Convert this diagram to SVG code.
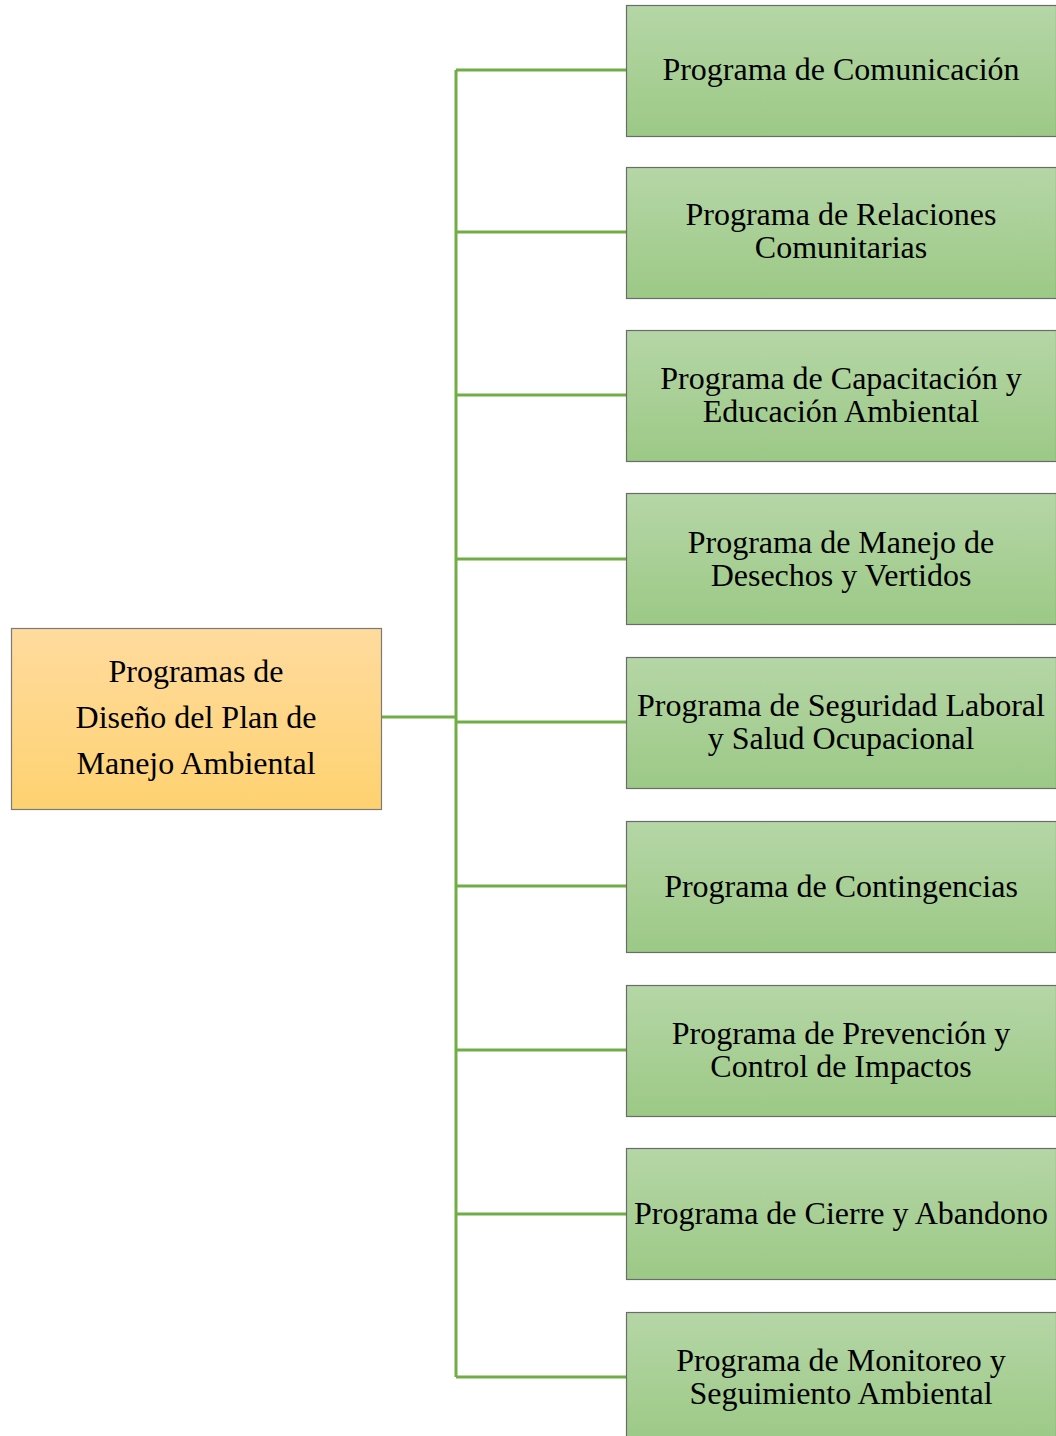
<svg xmlns="http://www.w3.org/2000/svg" width="1056" height="1436" viewBox="0 0 1056 1436">
<defs>
<linearGradient id="gg" x1="0" y1="0" x2="0" y2="1"><stop offset="0" stop-color="#b5d6a6"/><stop offset="1" stop-color="#9cc986"/></linearGradient>
<linearGradient id="og" x1="0" y1="0" x2="0" y2="1"><stop offset="0" stop-color="#ffdb9e"/><stop offset="1" stop-color="#fed270"/></linearGradient>
<style>
.g{fill:url(#gg);stroke:#6b6b6b;stroke-width:1.2}
.o{fill:url(#og);stroke:#7a7a7a;stroke-width:1.2}
.t{font-family:"Liberation Serif","Times New Roman",serif;font-size:32px;fill:#000;text-anchor:middle}
.c{fill:none;stroke:#70ad47;stroke-width:3}
</style>
</defs>
<rect width="1056" height="1436" fill="#fff"/>
<g id="connectors">
<path class="c" d="M381 717H456M456 70V1377M456 70H626M456 232H626M456 395H626M456 559H626M456 722H626M456 886H626M456 1050H626M456 1214H626M456 1377H626"/>
</g>
<g id="root"><rect class="o" x="11.5" y="628.5" width="370" height="181"/>
<text class="t" x="196" y="682">Programas de</text><text class="t" x="196" y="728">Diseño del Plan de</text><text class="t" x="196" y="774">Manejo Ambiental</text></g>
<g id="n1"><rect class="g" x="626.5" y="5.5" width="430" height="131"/><text class="t" x="841" y="80">Programa de Comunicación</text></g>
<g id="n2"><rect class="g" x="626.5" y="167.5" width="430" height="131"/><text class="t" x="841" y="225">Programa de Relaciones</text><text class="t" x="841" y="258">Comunitarias</text></g>
<g id="n3"><rect class="g" x="626.5" y="330.5" width="430" height="131"/><text class="t" x="841" y="389">Programa de Capacitación y</text><text class="t" x="841" y="422">Educación Ambiental</text></g>
<g id="n4"><rect class="g" x="626.5" y="493.5" width="430" height="131"/><text class="t" x="841" y="553">Programa de Manejo de</text><text class="t" x="841" y="586">Desechos y Vertidos</text></g>
<g id="n5"><rect class="g" x="626.5" y="657.5" width="430" height="131"/><text class="t" x="841" y="716">Programa de Seguridad Laboral</text><text class="t" x="841" y="749">y Salud Ocupacional</text></g>
<g id="n6"><rect class="g" x="626.5" y="821.5" width="430" height="131"/><text class="t" x="841" y="897">Programa de Contingencias</text></g>
<g id="n7"><rect class="g" x="626.5" y="985.5" width="430" height="131"/><text class="t" x="841" y="1044">Programa de Prevención y</text><text class="t" x="841" y="1077">Control de Impactos</text></g>
<g id="n8"><rect class="g" x="626.5" y="1148.5" width="430" height="131"/><text class="t" x="841" y="1224">Programa de Cierre y Abandono</text></g>
<g id="n9"><rect class="g" x="626.5" y="1312.5" width="430" height="131"/><text class="t" x="841" y="1371">Programa de Monitoreo y</text><text class="t" x="841" y="1404">Seguimiento Ambiental</text></g>
</svg>
